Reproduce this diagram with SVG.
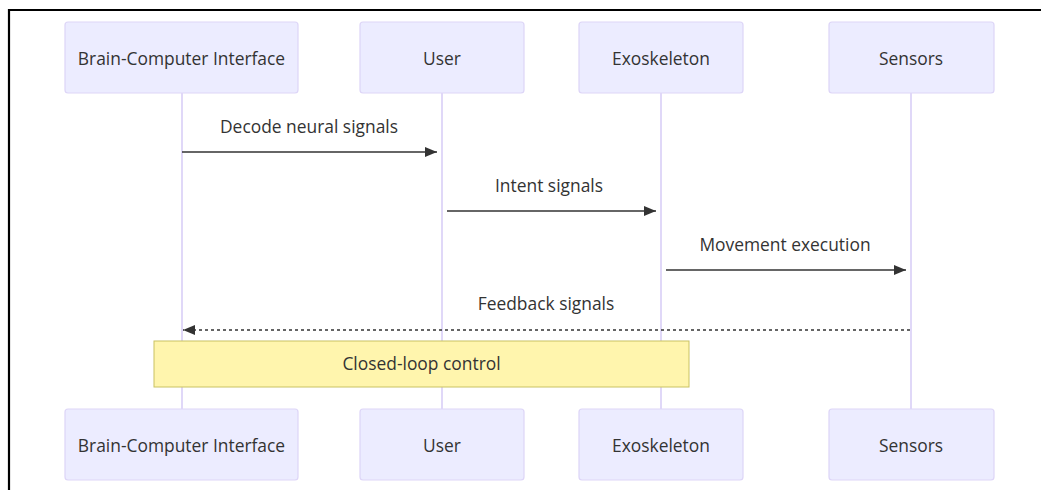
<svg xmlns="http://www.w3.org/2000/svg" width="1041" height="490" viewBox="0 0 1041 490">
<style>
.actor{fill:#ECECFF;stroke:#ddd5f7;stroke-width:1.2}
.life{stroke:#e0d8f8;stroke-width:2}
.lbl{font-family:"Open Sans","Noto Sans",sans-serif;font-size:17.4px;fill:#333;text-anchor:middle;dominant-baseline:central}
.msg{stroke:#333;stroke-width:1.6;fill:none}
.note{fill:#fff5ad;stroke:#c9c262;stroke-width:1}
</style>
<defs>
<marker id="ah" viewBox="0 0 12 10" refX="12" refY="5" markerWidth="12" markerHeight="10" markerUnits="userSpaceOnUse" orient="auto">
<path d="M0,0 L12,5 L0,10 z" fill="#333"/>
</marker>
</defs>
<rect x="0" y="0" width="1041" height="490" fill="#fff"/>
<path d="M9,490 V10 H1041" fill="none" stroke="#000" stroke-width="2.2"/>
<g id="lifelines">
<line class="life" x1="182" y1="93" x2="182" y2="409"/>
<line class="life" x1="442" y1="93" x2="442" y2="409"/>
<line class="life" x1="661" y1="93" x2="661" y2="409"/>
<line class="life" x1="911" y1="93" x2="911" y2="409"/>
</g>
<g id="bci-top"><rect class="actor" x="65" y="22" width="233" height="71" rx="3"/><text class="lbl" x="181.5" y="58">Brain-Computer Interface</text></g>
<g id="user-top"><rect class="actor" x="360" y="22" width="164" height="71" rx="3"/><text class="lbl" x="442" y="58">User</text></g>
<g id="exo-top"><rect class="actor" x="579" y="22" width="164" height="71" rx="3"/><text class="lbl" x="661" y="58">Exoskeleton</text></g>
<g id="sensors-top"><rect class="actor" x="829" y="22" width="165" height="71" rx="3"/><text class="lbl" x="911" y="58">Sensors</text></g>
<g id="bci-bottom"><rect class="actor" x="65" y="409" width="233" height="71" rx="3"/><text class="lbl" x="181.5" y="445">Brain-Computer Interface</text></g>
<g id="user-bottom"><rect class="actor" x="360" y="409" width="164" height="71" rx="3"/><text class="lbl" x="442" y="445">User</text></g>
<g id="exo-bottom"><rect class="actor" x="579" y="409" width="164" height="71" rx="3"/><text class="lbl" x="661" y="445">Exoskeleton</text></g>
<g id="sensors-bottom"><rect class="actor" x="829" y="409" width="165" height="71" rx="3"/><text class="lbl" x="911" y="445">Sensors</text></g>
<g id="connectors">
<line class="msg" x1="182" y1="152" x2="437" y2="152" marker-end="url(#ah)"/>
<text class="lbl" x="309" y="126">Decode neural signals</text>
<line class="msg" x1="447" y1="211" x2="656" y2="211" marker-end="url(#ah)"/>
<text class="lbl" x="549" y="185">Intent signals</text>
<line class="msg" x1="666" y1="270" x2="906" y2="270" marker-end="url(#ah)"/>
<text class="lbl" x="785" y="244">Movement execution</text>
<line class="msg" x1="910" y1="330" x2="183" y2="330" stroke-dasharray="3,3" marker-end="url(#ah)"/>
<text class="lbl" x="546" y="303">Feedback signals</text>
</g>
<g id="note"><rect class="note" x="154" y="341" width="535" height="46"/><text class="lbl" x="421.5" y="363">Closed-loop control</text></g>
</svg>
